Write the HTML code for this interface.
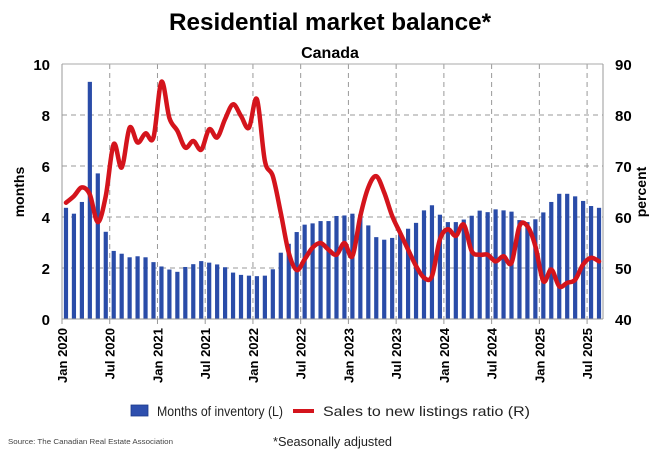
<!DOCTYPE html>
<html><head><meta charset="utf-8"><style>
html,body{margin:0;padding:0;background:#fff;}
body{width:660px;height:452px;overflow:hidden;font-family:"Liberation Sans",sans-serif;}
</style></head><body>
<svg id="c" width="660" height="452" xmlns="http://www.w3.org/2000/svg" font-family="Liberation Sans, sans-serif">
<text x="330" y="30" text-anchor="middle" font-size="24" font-weight="bold" fill="#000" textLength="322" lengthAdjust="spacingAndGlyphs">Residential market balance*</text>
<text x="330" y="58" text-anchor="middle" font-size="16" font-weight="bold" fill="#000">Canada</text>
<g id="grid"></g>
<g id="bars"></g>
<path id="line" fill="none" stroke="#d4141c" stroke-width="4.5" stroke-linejoin="round" stroke-linecap="round"/>
<g id="axes"></g>
<text transform="translate(24,192) rotate(-90)" text-anchor="middle" font-size="14" font-weight="bold">months</text>
<text transform="translate(646,192) rotate(-90)" text-anchor="middle" font-size="14" font-weight="bold">percent</text>
<rect x="131" y="405" width="17" height="11" fill="#2e4fae" stroke="#1c3a8a" stroke-width="0.8"/>
<text x="157" y="416" font-size="14" fill="#222" textLength="126" lengthAdjust="spacingAndGlyphs">Months of inventory (L)</text>
<line x1="293" y1="411" x2="314" y2="411" stroke="#d4141c" stroke-width="4"/>
<text x="323" y="416" font-size="14" fill="#222" textLength="207" lengthAdjust="spacingAndGlyphs">Sales to new listings ratio (R)</text>
<text x="8" y="444" font-size="7.5" fill="#444" textLength="165" lengthAdjust="spacingAndGlyphs">Source: The Canadian Real Estate Association</text>
<text x="273" y="446" font-size="13" fill="#222" textLength="119" lengthAdjust="spacingAndGlyphs">*Seasonally adjusted</text>
</svg>
<script>
var NS="http://www.w3.org/2000/svg";
function el(p,t,a,txt){var e=document.createElementNS(NS,t);for(var k in a)e.setAttribute(k,a[k]);if(txt!=null)e.textContent=txt;p.appendChild(e);return e;}
var L=62,R=603,T=64,B=319,W=(R-L)/68;
var months=[4.36,4.13,4.59,9.3,5.71,3.42,2.67,2.56,2.42,2.46,2.42,2.23,2.06,1.94,1.85,2.04,2.15,2.27,2.21,2.14,2.03,1.82,1.73,1.70,1.68,1.70,1.95,2.6,2.95,3.41,3.70,3.75,3.84,3.84,4.04,4.06,4.13,4.1,3.67,3.21,3.11,3.18,3.32,3.54,3.77,4.26,4.46,4.09,3.80,3.80,3.9,4.05,4.25,4.19,4.30,4.26,4.21,3.88,3.80,3.91,4.18,4.59,4.91,4.91,4.81,4.63,4.43,4.36];
var pct=[62.8,64.1,65.8,64.4,59,64.1,74.3,69.7,77.5,74.6,76.4,75.6,86.5,79.4,76.9,73.6,74.9,73.2,77.2,75.6,79.2,82.1,79.8,77.5,83.1,71,68,60.8,53,49.6,51.7,54,54.9,53.6,52.6,54.9,52.3,60.2,65.8,68,64.8,60.2,56.9,53.6,50.4,48.1,48.4,55.6,57.6,56.3,58.5,53.3,52.6,52.6,51.3,52.3,51,58.2,58.2,54.3,47.4,49.7,46.4,47.1,47.7,50.7,52,51.3];
var g=document.getElementById('grid'),b=document.getElementById('bars'),a=document.getElementById('axes');
function yL(v){return B-v*(B-T)/10;}
function yR(v){return B-(v-40)*(B-T)/50;}
for(var i=1;i<5;i++)el(g,'line',{x1:L,x2:R,y1:yL(i*2),y2:yL(i*2),stroke:'#999','stroke-dasharray':'5,4','stroke-width':1});
for(var i=1;i<12;i++){var x=L+i*6*W;el(g,'line',{x1:x,x2:x,y1:T,y2:B,stroke:'#999','stroke-dasharray':'5,4','stroke-width':1});}
months.forEach(function(v,i){var cx=L+(i+0.5)*W;el(b,'rect',{x:cx-2.1,y:yL(v),width:4.2,height:B-yL(v),fill:'#2a4ca8'});});
var pts=pct.map(function(v,i){return[L+(i+0.5)*W,yR(v)];});
var d='M'+pts[0][0]+','+pts[0][1];
for(var i=0;i<pts.length-1;i++){var p0=pts[Math.max(0,i-1)],p1=pts[i],p2=pts[i+1],p3=pts[Math.min(pts.length-1,i+2)];
d+=' C'+(p1[0]+(p2[0]-p0[0])/6)+','+(p1[1]+(p2[1]-p0[1])/6)+' '+(p2[0]-(p3[0]-p1[0])/6)+','+(p2[1]-(p3[1]-p1[1])/6)+' '+p2[0]+','+p2[1];}
document.getElementById('line').setAttribute('d',d);
el(a,'line',{x1:L,x2:R,y1:T,y2:T,stroke:'#aaa','stroke-width':1});
el(a,'line',{x1:L,x2:L,y1:T,y2:B,stroke:'#999','stroke-width':1});
el(a,'line',{x1:R,x2:R,y1:T,y2:B,stroke:'#999','stroke-width':1});
el(a,'line',{x1:L,x2:R,y1:B,y2:B,stroke:'#999','stroke-width':1});
for(var i=0;i<=5;i++){el(a,'text',{x:L-12,y:yL(i*2)+6,'text-anchor':'end','font-size':15,'font-weight':'bold'},String(i*2));
el(a,'text',{x:R+12,y:yL(i*2)+6,'font-size':15,'font-weight':'bold'},String(40+i*10));}
var labs=['Jan 2020','Jul 2020','Jan 2021','Jul 2021','Jan 2022','Jul 2022','Jan 2023','Jul 2023','Jan 2024','Jul 2024','Jan 2025','Jul 2025'];
labs.forEach(function(t,i){var x=L+i*6*W;el(a,'line',{x1:x,x2:x,y1:B,y2:B+5,stroke:'#999'});
el(a,'text',{transform:'translate('+(x+5)+','+(B+9)+') rotate(-90)','text-anchor':'end','font-size':13,'font-weight':'bold'},t);});
</script>
</body></html>
